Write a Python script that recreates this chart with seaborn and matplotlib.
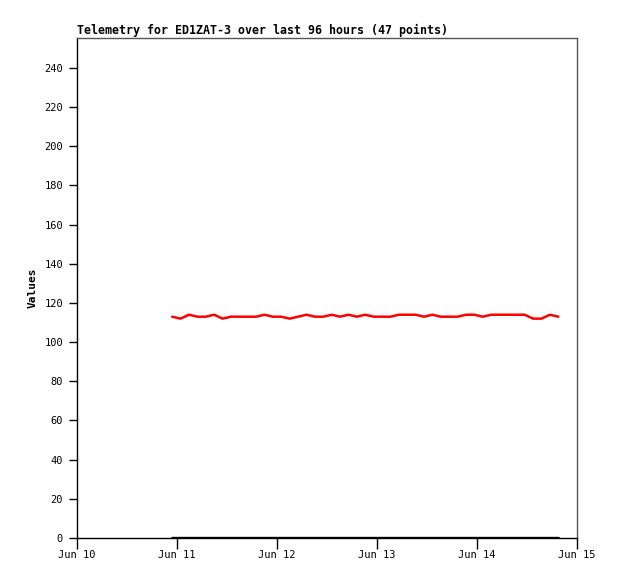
import numpy as np
import pandas as pd
import matplotlib
matplotlib.use('Agg')
import matplotlib.pyplot as plt
import matplotlib.dates as mdates
import seaborn as sns

title = 'Telemetry for ED1ZAT-3 over last 96 hours (47 points)'
t_start = '2024-06-10 22:50'
t_end = '2024-06-14 19:30'
n_points = 47

# telemetry channel values
channel_1 = [113, 112, 114, 113, 113, 114, 112, 113, 113, 113,
             113, 114, 113, 113, 112, 113, 114, 113, 113, 114,
             113, 114, 113, 114, 113, 113, 113, 114, 114, 114,
             113, 114, 113, 113, 113, 114, 114, 113, 114, 114,
             114, 114, 114, 112, 112, 114, 113]
channel_2 = [0] * n_points

x_ticks = ['2024-06-10', '2024-06-11', '2024-06-12', '2024-06-13', '2024-06-14', '2024-06-15']
y_ticks = [0, 20, 40, 60, 80, 100, 120, 140, 160, 180, 200, 220, 240]

times = pd.date_range(t_start, t_end, periods=n_points)
df = pd.DataFrame({'time': times, 'ch1': channel_1, 'ch2': channel_2})

sns.set_style('ticks')
plt.rcParams['font.family'] = ['DejaVu Sans Mono', 'DejaVu Sans']
plt.rcParams['text.color'] = 'black'
plt.rcParams['axes.labelcolor'] = 'black'

fig = plt.figure(figsize=(6.18, 5.79), dpi=100)
ax = fig.add_axes([77 / 618, 41 / 579, 500 / 618, 500 / 579])

sns.lineplot(data=df, x='time', y='ch2', color='black', linewidth=2.4, ax=ax)
sns.lineplot(data=df, x='time', y='ch1', color='#ff0000', linewidth=1.8, ax=ax)

ax.set_xlim(pd.Timestamp(x_ticks[0]), pd.Timestamp(x_ticks[-1]))
ax.set_ylim(0, 255.3)
ax.set_xticks([pd.Timestamp(t) for t in x_ticks])
ax.xaxis.set_major_formatter(mdates.DateFormatter('%b %d'))
ax.set_yticks(y_ticks)

ax.tick_params(axis='x', direction='out', length=8, width=1, labelsize=7.5, pad=1,
               colors='black', bottom=True)
ax.tick_params(axis='y', direction='out', length=6, width=1, labelsize=7.5, pad=4,
               colors='black', left=True)

for side in ['left', 'bottom']:
    ax.spines[side].set_color('black')
    ax.spines[side].set_linewidth(1)
for side in ['top', 'right']:
    ax.spines[side].set_visible(True)
    ax.spines[side].set_color('#555555')
    ax.spines[side].set_linewidth(1)

ax.set_xlabel('')
ax.set_ylabel('Values', fontsize=8, fontweight='bold', labelpad=5, color='black')
ax.set_title(title, loc='left', fontsize=8.4, fontweight='bold', pad=3, color='black')

fig.savefig('out.png', dpi=100)
